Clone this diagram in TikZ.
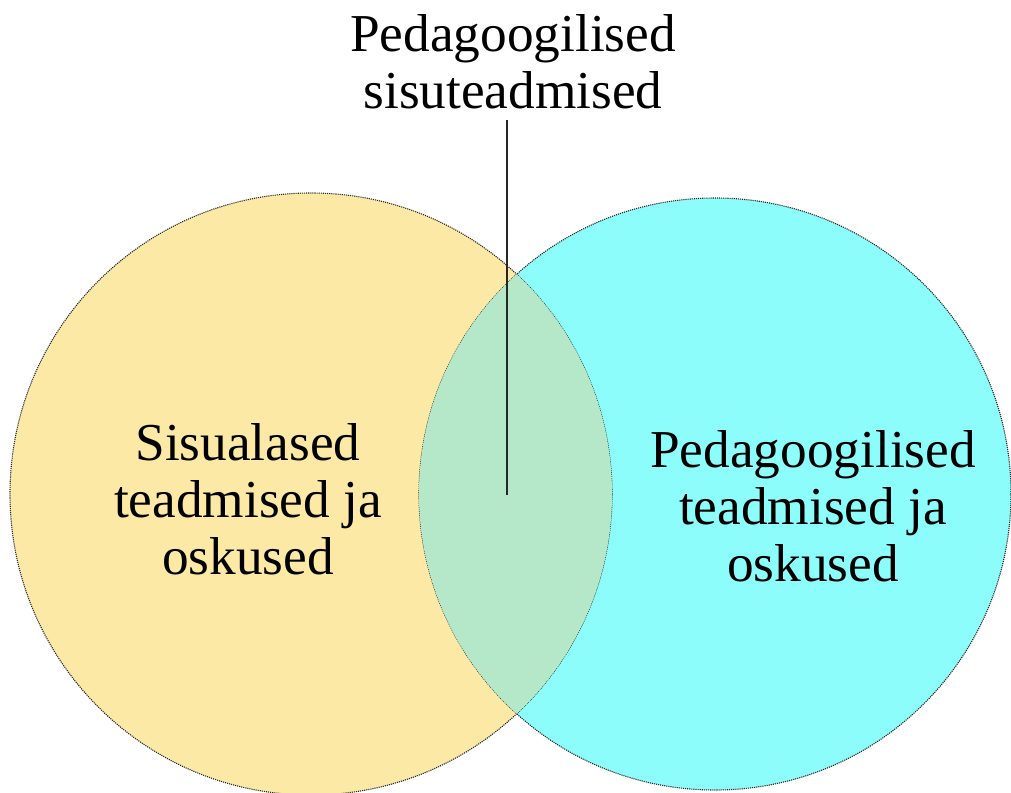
\documentclass[tikz,border=0pt]{standalone}
\usepackage{fontspec}
\setmainfont{Liberation Serif}
\definecolor{yellowfill}{RGB}{252,233,166}
\definecolor{cyanfill}{RGB}{140,253,250}
\definecolor{lensfill}{RGB}{181,231,201}
\definecolor{rimgray}{RGB}{40,40,40}
\begin{document}
\begin{tikzpicture}[x=1pt,y=-1pt,
  label/.style={align=center,inner sep=0pt,font=\fontsize{53.3}{57}\selectfont},
  rim/.style={draw=rimgray,line width=1.1pt,densely dotted}]
\useasboundingbox (0,0) rectangle (1011,792);
\fill[yellowfill] (311,494) circle[radius=301pt];
\fill[cyanfill] (715,494) circle[radius=296pt];
\draw[rim] (311,494) circle[radius=301pt];
\draw[rim] (715,494) circle[radius=296pt];
\begin{scope}
  \clip (311,494) circle[radius=301pt];
  \fill[lensfill] (715,494) circle[radius=296pt];
\end{scope}
\node[label] (top) at (513,62) {Pedagoogilised\\sisuteadmised};
\node[label] (left) at (248,499) {Sisualased\\teadmised ja\\oskused};
\node[label] (right) at (813,506) {Pedagoogilised\\teadmised ja\\oskused};
\coordinate (lt) at (507,120);
\coordinate (lb) at (507,495);
\draw[line width=1.2pt,black!85] (lt) -- (lb);
\end{tikzpicture}
\end{document}
